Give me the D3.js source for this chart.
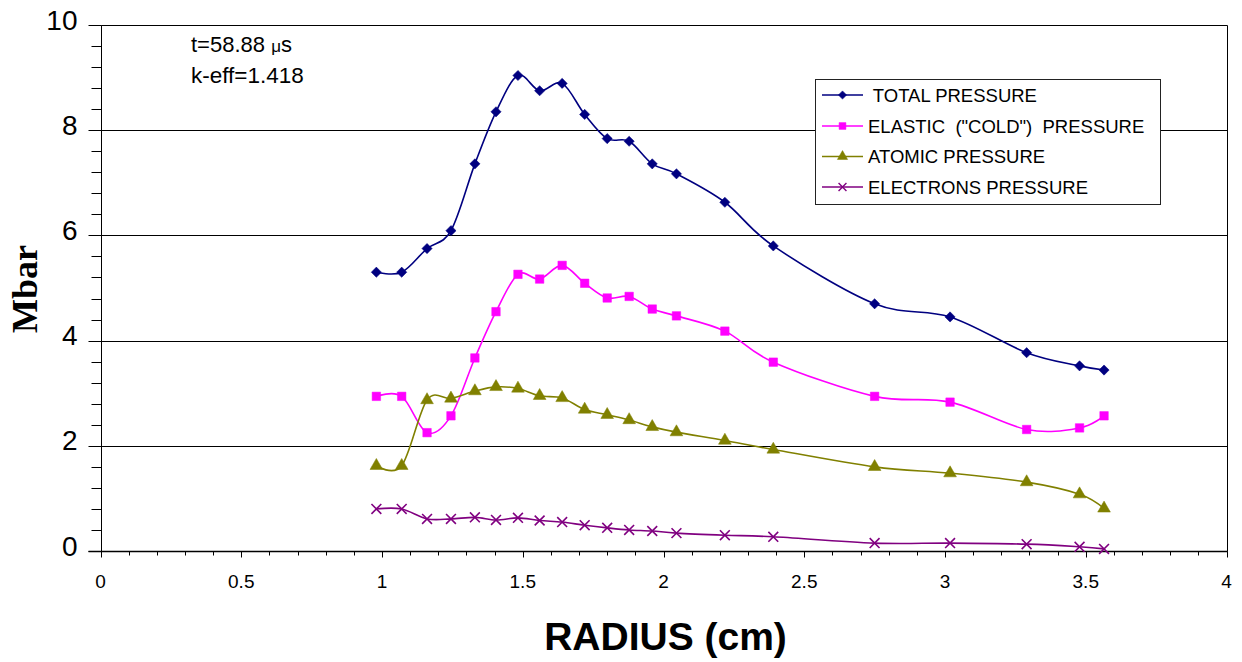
<!DOCTYPE html>
<html>
<head>
<meta charset="utf-8">
<script src="https://cdn.jsdelivr.net/npm/d3@7"></script>
<style>
  html, body { margin: 0; padding: 0; background: #fff; }
  svg { display: block; }
  text { font-family: Arial, "Liberation Sans", sans-serif; fill: #000; }
</style>
</head>
<body>
<svg id="chart" width="1242" height="662"></svg>
<script>
// Radius of each zone (cm)
const radius = [0.98, 1.07, 1.16, 1.245, 1.33, 1.405, 1.483, 1.56, 1.64, 1.72, 1.80,
                1.878, 1.96, 2.046, 2.218, 2.39, 2.75, 3.018, 3.29, 3.478, 3.565];

// Pressure components (Mbar)
const totalPressure   = [5.30, 5.30, 5.75, 6.09, 7.36, 8.35, 9.04, 8.75, 8.89, 8.30, 7.84,
                         7.79, 7.36, 7.17, 6.63, 5.80, 4.70, 4.45, 3.77, 3.52, 3.44];
const elasticPressure = [2.94, 2.94, 2.25, 2.57, 3.67, 4.55, 5.26, 5.17, 5.43, 5.09, 4.81,
                         4.84, 4.60, 4.47, 4.18, 3.59, 2.94, 2.83, 2.31, 2.34, 2.57];
const atomicPressure  = [1.62, 1.62, 2.87, 2.90, 3.04, 3.12, 3.09, 2.95, 2.91, 2.69, 2.59,
                         2.49, 2.36, 2.26, 2.10, 1.93, 1.60, 1.48, 1.31, 1.08, 0.81];
const electronPressure= [0.80, 0.80, 0.61, 0.61, 0.64, 0.59, 0.63, 0.58, 0.55, 0.49, 0.44,
                         0.40, 0.38, 0.34, 0.30, 0.27, 0.15, 0.15, 0.13, 0.08, 0.04];

const seriesNames = [" TOTAL PRESSURE", "ELASTIC  (\"COLD\")  PRESSURE", "ATOMIC PRESSURE", "ELECTRONS PRESSURE"];
const xTickLabels = ["0", "0.5", "1", "1.5", "2", "2.5", "3", "3.5", "4"];
const yTickLabels = ["0", "2", "4", "6", "8", "10"];

const svg = d3.select("#chart");
const plotLeft = 100.5, plotRight = 1226.5, plotTop = 25, plotBottom = 551;

const x = d3.scaleLinear().domain([0, 4]).range([plotLeft, plotRight]);
const y = d3.scaleLinear().domain([0, 10]).range([plotBottom, plotTop]);

const crisp = v => Math.round(v) + 0.5;

// Horizontal gridlines
svg.append("g").selectAll("line")
  .data(yTickLabels.map(Number).filter(v => v > 0))
  .join("line")
  .attr("x1", crisp(plotLeft)).attr("x2", crisp(plotRight))
  .attr("y1", d => crisp(y(d))).attr("y2", d => crisp(y(d)))
  .attr("stroke", "#000").attr("stroke-width", 1);

// Plot area frame (right edge)
svg.append("line")
  .attr("x1", crisp(plotRight)).attr("x2", crisp(plotRight))
  .attr("y1", crisp(plotTop)).attr("y2", crisp(plotBottom))
  .attr("stroke", "#000");

// Y axis: major ticks every 2, minor every 0.4
const yAxis = svg.append("g").attr("transform", `translate(${crisp(plotLeft)},0)`);
yAxis.append("line").attr("x1", 0).attr("x2", 0)
  .attr("y1", crisp(plotTop)).attr("y2", crisp(plotBottom)).attr("stroke", "#000");
yAxis.selectAll("line.minor")
  .data(d3.range(0, 10.001, 0.4))
  .join("line").attr("class", "minor")
  .attr("x1", -10).attr("x2", 0)
  .attr("y1", d => crisp(y(d))).attr("y2", d => crisp(y(d)))
  .attr("stroke", "#000");
yAxis.selectAll("line.major")
  .data(yTickLabels.map(Number))
  .join("line").attr("class", "major")
  .attr("x1", -13).attr("x2", 0)
  .attr("y1", d => crisp(y(d))).attr("y2", d => crisp(y(d)))
  .attr("stroke", "#000");
yAxis.selectAll("text")
  .data(yTickLabels)
  .join("text")
  .attr("x", -24)
  .attr("y", d => y(+d) - 5)
  .attr("dominant-baseline", "central")
  .attr("text-anchor", "end")
  .attr("font-size", 28)
  .text(d => d);

// X axis: major ticks every 0.5, minor every 0.1
const xAxis = svg.append("g").attr("transform", `translate(0,${crisp(plotBottom)})`);
xAxis.append("line").attr("x1", crisp(plotLeft) - 13).attr("x2", crisp(plotRight))
  .attr("y1", 0).attr("y2", 0).attr("stroke", "#000").attr("stroke-width", 1.4);
xAxis.selectAll("line.minor")
  .data(d3.range(0, 4.001, 0.1))
  .join("line").attr("class", "minor")
  .attr("x1", d => crisp(x(d))).attr("x2", d => crisp(x(d)))
  .attr("y1", 0).attr("y2", 4)
  .attr("stroke", "#000");
xAxis.selectAll("line.major")
  .data(xTickLabels.map(Number))
  .join("line").attr("class", "major")
  .attr("x1", d => crisp(x(d))).attr("x2", d => crisp(x(d)))
  .attr("y1", 0).attr("y2", 6)
  .attr("stroke", "#000");
xAxis.selectAll("text")
  .data(xTickLabels)
  .join("text")
  .attr("x", d => x(+d))
  .attr("y", 36)
  .attr("text-anchor", "middle")
  .attr("font-size", 19)
  .text(d => d);

// Axis titles
svg.append("text")
  .attr("x", (plotLeft + plotRight) / 2 + 2)
  .attr("y", 650)
  .attr("text-anchor", "middle")
  .attr("font-size", 39)
  .attr("font-weight", "bold")
  .text("RADIUS (cm)");

svg.append("text")
  .attr("transform", "translate(37,289) rotate(-90)")
  .attr("text-anchor", "middle")
  .attr("font-size", 36)
  .attr("font-weight", "bold")
  .style("font-family", "'Times New Roman', 'Liberation Serif', serif")
  .text("Mbar");

// Run annotation
const note = svg.append("g");
const t1 = note.append("text").attr("x", 191).attr("y", 52).attr("font-size", 22);
t1.append("tspan").text("t=58.88 ");
t1.append("tspan").attr("font-size", 17).text("\u03bc");
t1.append("tspan").text("s");
note.append("text").attr("x", 191).attr("y", 83).attr("font-size", 22.5).text("k-eff=1.418");

// Series; the diamond is a square turned 45 degrees
const series = [
  { name: seriesNames[0], values: totalPressure,    color: "#000080", symbol: d3.symbolSquare,   size: 52, rot: 45 },
  { name: seriesNames[1], values: elasticPressure,  color: "#FF00FF", symbol: d3.symbolSquare,   size: 72, rot: 0 },
  { name: seriesNames[2], values: atomicPressure,   color: "#808000", symbol: d3.symbolTriangle, size: 70, rot: 0 },
  { name: seriesNames[3], values: electronPressure, color: "#800080", symbol: d3.symbolX,        size: 65, rot: 0 }
];

const line = d3.line()
  .x(d => x(d[0]))
  .y(d => y(d[1]))
  .curve(d3.curveCardinal.tension(0));

const plot = svg.append("g");
series.forEach(s => {
  const pts = radius.map((r, i) => [r, s.values[i]]);
  plot.append("path")
    .attr("d", line(pts))
    .attr("fill", "none")
    .attr("stroke", s.color)
    .attr("stroke-width", 1.6);
  const isX = s.symbol === d3.symbolX;
  plot.append("g").selectAll("path")
    .data(pts)
    .join("path")
    .attr("transform", d => `translate(${x(d[0])},${y(d[1])}) rotate(${s.rot})`)
    .attr("d", d3.symbol(s.symbol, s.size))
    .attr("fill", isX ? "none" : s.color)
    .attr("stroke", s.color)
    .attr("stroke-width", isX ? 1.6 : 0.5);
});

// Legend
const lg = svg.append("g");
lg.append("rect")
  .attr("x", 815.5).attr("y", 79.5).attr("width", 345).attr("height", 125)
  .attr("fill", "#fff").attr("stroke", "#222").attr("stroke-width", 1);
const rowY = [95, 126, 156.5, 187];
series.forEach((s, i) => {
  const g = lg.append("g").attr("transform", `translate(0,${rowY[i]})`);
  g.append("line").attr("x1", 822).attr("x2", 863).attr("y1", 0).attr("y2", 0)
    .attr("stroke", s.color).attr("stroke-width", 1.6);
  const isX = s.symbol === d3.symbolX;
  g.append("path")
    .attr("transform", `translate(842.5,0) rotate(${s.rot})`)
    .attr("d", d3.symbol(s.symbol, s.size * 0.65))
    .attr("fill", isX ? "none" : s.color)
    .attr("stroke", s.color)
    .attr("stroke-width", isX ? 1.4 : 0.5);
  g.append("text")
    .attr("x", 868).attr("y", 6.5)
    .attr("font-size", 18.5)
    .style("white-space", "pre")
    .text(s.name);
});
</script>
</body>
</html>
